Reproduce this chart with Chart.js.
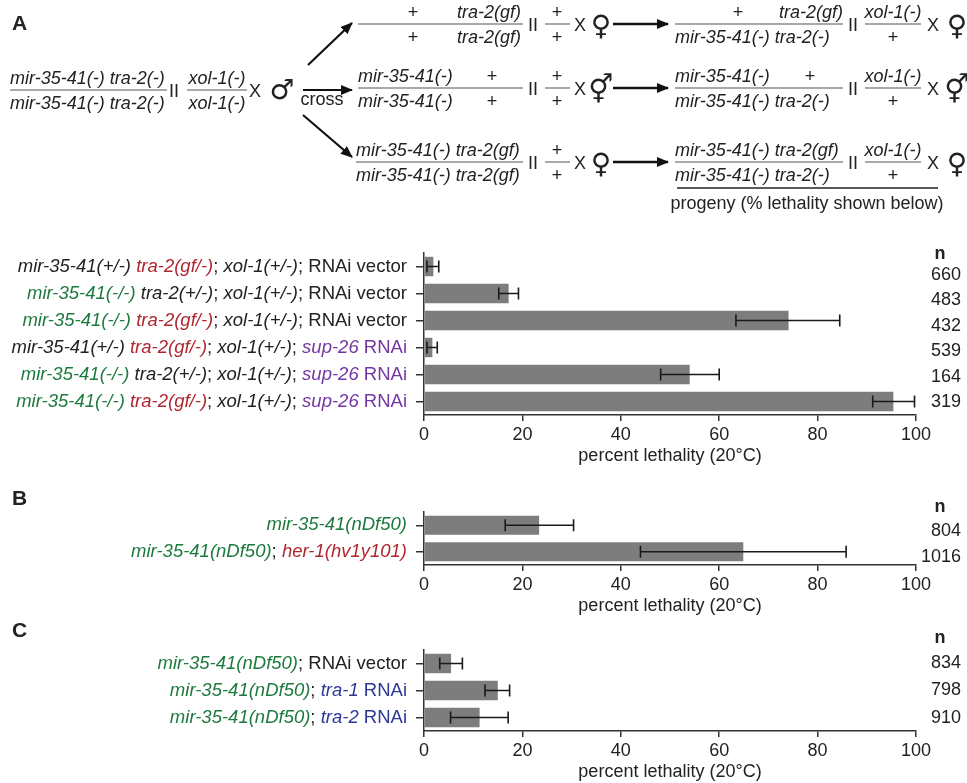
<!DOCTYPE html>
<html>
<head>
<meta charset="utf-8">
<script src="https://cdn.jsdelivr.net/npm/chart.js@4"></script>
<style>
  body { margin: 0; background: #fff; width: 967px; height: 783px; overflow: hidden; position: relative; }
  canvas, svg { position: absolute; left: 0; }
</style>
</head>
<body>
<canvas id="chartA" width="967" height="230" style="top:240px"></canvas>
<canvas id="chartB" width="967" height="130" style="top:490px"></canvas>
<canvas id="chartC" width="967" height="153" style="top:630px"></canvas>
<svg id="art" width="967" height="783" style="top:0"></svg>
<script>
// ---- data ----
const labelsA = [
  "mir-35-41(+/-) tra-2(gf/-); xol-1(+/-); RNAi vector",
  "mir-35-41(-/-) tra-2(+/-); xol-1(+/-); RNAi vector",
  "mir-35-41(-/-) tra-2(gf/-); xol-1(+/-); RNAi vector",
  "mir-35-41(+/-) tra-2(gf/-); xol-1(+/-); sup-26 RNAi",
  "mir-35-41(-/-) tra-2(+/-); xol-1(+/-); sup-26 RNAi",
  "mir-35-41(-/-) tra-2(gf/-); xol-1(+/-); sup-26 RNAi"
];
const valuesA = [1.9, 17.2, 74.1, 1.7, 54.0, 95.4];
const lowA = [0.6, 15.2, 63.4, 0.6, 48.1, 91.2];
const highA = [3.0, 19.2, 84.5, 2.7, 60.0, 99.7];
const nA = [660, 483, 432, 539, 164, 319];

const labelsB = ["mir-35-41(nDf50)", "mir-35-41(nDf50); her-1(hv1y101)"];
const valuesB = [23.4, 64.9];
const lowB = [16.5, 44.0];
const highB = [30.4, 85.8];
const nB = [804, 1016];

const labelsC = [
  "mir-35-41(nDf50); RNAi vector",
  "mir-35-41(nDf50); tra-1 RNAi",
  "mir-35-41(nDf50); tra-2 RNAi"
];
const valuesC = [5.5, 15.0, 11.3];
const lowC = [3.2, 12.4, 5.4];
const highC = [7.8, 17.4, 17.1];
const nC = [834, 798, 910];

const xTicks = [0, 20, 40, 60, 80, 100];

// ---- look ----
const FONT = '"Liberation Sans", Arial, sans-serif';
const INK = '#222';
const GREEN = '#1d7a3e', RED = '#b0262f', PURPLE = '#7336a3', BLUE = '#2d3796';
const BAR = '#7d7d7d', AXIS = '#333';
const LABEL_PX = 18.5;

Chart.defaults.font.family = FONT;
Chart.defaults.font.size = 18;
Chart.defaults.color = INK;

// split a genotype label into coloured / italic pieces
function styleLabel(str) {
  const parts = str.split(/(;| )/).filter(s => s.length);
  let target = null;
  return parts.map(p => {
    let color = INK;
    const italic = /-/.test(p);
    if (/^mir-35-41\((-\/-|nDf50)\)$/.test(p)) color = GREEN;
    else if (/^tra-2\(gf\/-\)$/.test(p) || /^her-1/.test(p)) color = RED;
    else if (p === 'sup-26') color = PURPLE;
    else if (/^tra-[12]$/.test(p)) color = BLUE;
    else if (p === 'RNAi' && target) color = target;
    if (p !== ' ') target = (p === 'sup-26' || /^tra-[12]$/.test(p)) ? color : null;
    return { text: p, color, italic };
  });
}

function drawRich(ctx, segs, right, y) {
  const fontOf = s => (s.italic ? 'italic ' : '') + LABEL_PX + 'px ' + FONT;
  let total = 0;
  segs.forEach(s => { ctx.font = fontOf(s); s.w = ctx.measureText(s.text).width; total += s.w; });
  let x = right - total;
  ctx.textAlign = 'left';
  segs.forEach(s => {
    ctx.font = fontOf(s);
    ctx.fillStyle = s.color;
    ctx.fillText(s.text, x, y);
    x += s.w;
  });
}

function makeChart(id, d) {
  const canvas = document.getElementById(id);
  const H = canvas.height;
  const extras = {
    id: 'extras_' + id,
    afterDatasetsDraw(chart) {
      const ctx = chart.ctx, xs = chart.scales.x, ys = chart.scales.y;
      const top = chart.chartArea.top;
      ctx.save();
      // error bars
      ctx.strokeStyle = '#1a1a1a';
      ctx.lineWidth = 1.6;
      chart.getDatasetMeta(0).data.forEach((bar, i) => {
        const a = xs.getPixelForValue(d.low[i]), b = xs.getPixelForValue(d.high[i]);
        const cy = bar.y, cap = 6;
        ctx.beginPath();
        ctx.moveTo(a, cy); ctx.lineTo(b, cy);
        ctx.moveTo(a, cy - cap); ctx.lineTo(a, cy + cap);
        ctx.moveTo(b, cy - cap); ctx.lineTo(b, cy + cap);
        ctx.stroke();
      });
      // category labels
      ctx.textBaseline = 'middle';
      d.labels.forEach((lab, i) => {
        drawRich(ctx, styleLabel(lab), xs.left - 17, ys.getPixelForValue(i));
      });
      // n column (its own line pitch, as in the figure)
      ctx.font = '18px ' + FONT;
      ctx.fillStyle = INK;
      ctx.textAlign = 'right';
      d.n.forEach((v, i) => ctx.fillText(String(v), 961, top + d.nTop + i * d.nPitch));
      ctx.font = 'bold 18px ' + FONT;
      ctx.textAlign = 'center';
      ctx.fillText('n', 940, top + d.nHeadDy);
      ctx.restore();
    }
  };
  return new Chart(canvas, {
    type: 'bar',
    data: {
      labels: d.labels,
      datasets: [{ data: d.values, backgroundColor: BAR, barPercentage: 0.72, categoryPercentage: 1 }]
    },
    options: {
      indexAxis: 'y',
      responsive: false,
      animation: false,
      devicePixelRatio: 1,
      layout: { padding: { left: 414, right: 51, top: d.padTop, bottom: 0 } },
      plugins: { legend: { display: false }, tooltip: { enabled: false } },
      scales: {
        y: {
          grid: { offset: false, drawOnChartArea: false, tickLength: 8, color: AXIS, lineWidth: 1.5 },
          border: { color: AXIS, width: 1.5 },
          ticks: { display: false },
          afterFit: s => { s.width = 10; }
        },
        x: {
          min: xTicks[0],
          max: xTicks[xTicks.length - 1],
          afterBuildTicks: s => { s.ticks = xTicks.map(v => ({ value: v })); },
          ticks: { padding: 3, color: INK },
          grid: { drawOnChartArea: false, tickLength: 6, color: AXIS, lineWidth: 1.5 },
          border: { color: AXIS, width: 1.5 },
          title: { display: true, text: 'percent lethality (20°C)', color: INK, padding: { top: 0, bottom: d.titlePad } },
          afterFit: s => { s.height = H - d.padTop - d.plotH; }
        }
      }
    },
    plugins: [extras]
  });
}

makeChart('chartA', { labels: labelsA, values: valuesA, low: lowA, high: highA, n: nA,
  padTop: 13, plotH: 162, titlePad: 3, nTop: 22, nPitch: 25.4, nHeadDy: 1 });
makeChart('chartB', { labels: labelsB, values: valuesB, low: lowB, high: highB, n: nB,
  padTop: 22, plotH: 53, titlePad: 3, nTop: 19, nPitch: 26, nHeadDy: -5 });
makeChart('chartC', { labels: labelsC, values: valuesC, low: lowC, high: highC, n: nC,
  padTop: 20, plotH: 81, titlePad: 0, nTop: 13, nPitch: 27.5, nHeadDy: -12 });

// ---- cross scheme (panel A header) ----
const svg = document.getElementById('art');
const NS = 'http://www.w3.org/2000/svg';
function el(tag, attrs, text) {
  const e = document.createElementNS(NS, tag);
  for (const k in attrs) if (k !== 'parent' && attrs[k] != null) e.setAttribute(k, attrs[k]);
  if (text != null) e.textContent = text;
  (attrs.parent || svg).appendChild(e);
  return e;
}
function T(x, y, s, o = {}) {
  return el('text', { x, y, 'text-anchor': o.a || 'start', 'font-size': o.fs || 18,
    'font-style': o.i ? 'italic' : 'normal', 'font-weight': o.b ? 'bold' : 'normal',
    'font-family': o.f || FONT, fill: INK }, s);
}
function L(x1, y1, x2, y2, o = {}) {
  return el('line', { x1, y1, x2, y2, stroke: o.c || '#8c8c8c', 'stroke-width': o.w || 1.5,
    'marker-end': o.arrow ? 'url(#ah)' : null });
}
const defs = el('defs', {});
const mk = el('marker', { parent: defs, id: 'ah', markerWidth: 12, markerHeight: 10, refX: 11, refY: 5,
  orient: 'auto', markerUnits: 'userSpaceOnUse' });
el('path', { parent: mk, d: 'M0,0 L12,5 L0,10 z', fill: '#111' });

function frac(x1, x2, y, num, den) {
  L(x1, y, x2, y);
  num.forEach(p => T(p[1], y - 6, p[0], { a: p[2], i: p[3] }));
  den.forEach(p => T(p[1], y + 19, p[0], { a: p[2], i: p[3] }));
}
const SYM = '"DejaVu Sans", sans-serif';

// panel letters
T(12, 30, 'A', { b: 1, fs: 21 });
T(12, 505, 'B', { b: 1, fs: 21 });
T(12, 637, 'C', { b: 1, fs: 21 });

// parent on the left
frac(10, 167, 90, [['mir-35-41(-) tra-2(-)', 10, 'start', 1]], [['mir-35-41(-) tra-2(-)', 10, 'start', 1]]);
T(174, 97, 'II', { a: 'middle' });
frac(187, 247, 90, [['xol-1(-)', 217, 'middle', 1]], [['xol-1(-)', 217, 'middle', 1]]);
T(255, 97, 'X', { a: 'middle' });
T(282, 99, '♂', { a: 'middle', fs: 28, f: SYM });

// cross arrows
L(308, 65, 352, 23, { c: '#111', w: 2.2, arrow: 1 });
L(303, 90, 352, 90, { c: '#111', w: 2.2, arrow: 1 });
L(303, 115, 352, 157, { c: '#111', w: 2.2, arrow: 1 });
T(322, 105, 'cross', { a: 'middle' });

const rowY = [24, 88, 162];
const parentRows = [
  { x1: 358, part: [['+', 413, 'middle', 0], ['tra-2(gf)', 521, 'end', 1]] },
  { x1: 358, part: [['mir-35-41(-)', 358, 'start', 1], ['+', 492, 'middle', 0]] },
  { x1: 356, part: [['mir-35-41(-) tra-2(gf)', 356, 'start', 1]] }
];
const progenyTop = [
  [['+', 738, 'middle', 0], ['tra-2(gf)', 843, 'end', 1]],
  [['mir-35-41(-)', 675, 'start', 1], ['+', 810, 'middle', 0]],
  [['mir-35-41(-) tra-2(gf)', 675, 'start', 1]]
];
const progenyBottom = [['mir-35-41(-) tra-2(-)', 675, 'start', 1]];
const sexSym = ['♀', '⚥', '♀'];

rowY.forEach((y, r) => {
  frac(parentRows[r].x1, 523, y, parentRows[r].part, parentRows[r].part);
  T(533, y + 7, 'II', { a: 'middle' });
  frac(545, 570, y, [['+', 557, 'middle', 0]], [['+', 557, 'middle', 0]]);
  T(580, y + 7, 'X', { a: 'middle' });
  T(601, y + 11, sexSym[r], { a: 'middle', fs: 28, f: SYM });
  L(613, y, 668, y, { c: '#111', w: 2.5, arrow: 1 });
  frac(675, 843, y, progenyTop[r], progenyBottom);
  T(853, y + 7, 'II', { a: 'middle' });
  frac(865, 921, y, [['xol-1(-)', 893, 'middle', 1]], [['+', 893, 'middle', 0]]);
  T(933, y + 7, 'X', { a: 'middle' });
  T(957, y + 11, sexSym[r], { a: 'middle', fs: 28, f: SYM });
});

L(677, 188, 938, 188, { c: '#222', w: 1.5 });
T(807, 209, 'progeny (% lethality shown below)', { a: 'middle' });
</script>
</body>
</html>
